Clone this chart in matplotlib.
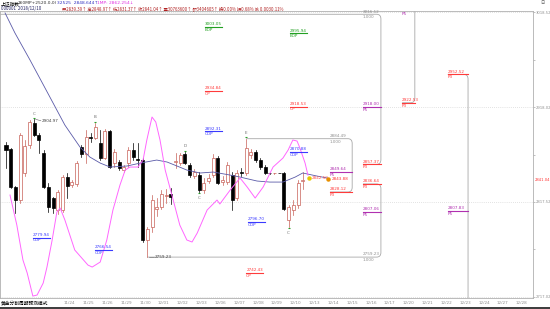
import matplotlib
matplotlib.use("Agg")
import matplotlib.pyplot as plt
from matplotlib.path import Path
from matplotlib.patches import PathPatch, Rectangle

# 60-minute bars of 上证指数 (4 bars per trading day)
opens = [2877.8, 2873.6, 2833.4, 2819.6, 2848.2, 2877.8, 2901.1, 2888.4, 2869.3, 2833.4,
         2821.7, 2809.0, 2809.0, 2843.9, 2835.5, 2836.5, 2875.7, 2868.3, 2886.3, 2885.2,
         2879.9, 2864.0, 2892.6, 2858.7, 2859.8, 2851.3, 2858.7, 2872.5, 2863.0, 2861.9,
         2777.3, 2791.0, 2810.1, 2812.2, 2823.8, 2825.9, 2859.8, 2858.7, 2868.3, 2856.6,
         2845.0, 2846.0, 2830.2, 2839.7, 2846.0, 2864.0, 2838.6, 2838.6, 2846.0, 2821.7,
         2849.2, 2848.2, 2867.2, 2870.4, 2861.9, 2854.5, 2848.2, 2848.0, 2848.2, 2848.2,
         2798.5, 2809.0, 2814.3, 2839.39]
highs = [2881.0, 2874.6, 2834.4, 2890.5, 2883.1, 2904.2, 2904.97, 2890.5, 2872.5, 2837.6,
         2822.8, 2830.2, 2846.0, 2848.2, 2840.8, 2860.9, 2877.8, 2893.7, 2890.5, 2901.1,
         2893.7, 2894.7, 2893.7, 2873.6, 2861.9, 2856.6, 2875.7, 2879.9, 2879.9, 2864.0,
         2791.0, 2824.9, 2821.7, 2830.2, 2831.2, 2832.3, 2869.3, 2869.3, 2870.4, 2858.7,
         2852.4, 2849.2, 2842.9, 2847.1, 2868.3, 2866.2, 2845.0, 2859.8, 2849.2, 2851.3,
         2853.5, 2884.49, 2873.6, 2872.5, 2864.0, 2856.6, 2848.6, 2848.5, 2848.6, 2849.2,
         2814.3, 2819.6, 2840.8, 2848.97]
lows = [2853.5, 2832.3, 2805.8, 2816.4, 2845.0, 2874.6, 2887.3, 2869.3, 2832.3, 2807.0,
        2805.8, 2804.8, 2807.0, 2821.7, 2833.4, 2834.4, 2865.1, 2858.7, 2881.0, 2884.1,
        2861.9, 2863.0, 2853.5, 2854.5, 2851.3, 2849.2, 2854.5, 2861.9, 2854.5, 2775.2,
        2759.23, 2785.7, 2802.7, 2810.1, 2816.4, 2815.4, 2853.5, 2856.6, 2857.7, 2843.9,
        2842.9, 2828.1, 2827.0, 2837.6, 2843.9, 2836.5, 2835.5, 2836.5, 2809.0, 2819.6,
        2845.0, 2846.0, 2864.0, 2859.8, 2852.4, 2847.1, 2847.6, 2847.6, 2847.7, 2809.0,
        2791.0, 2803.7, 2811.1, 2831.37]
closes = [2872.5, 2833.4, 2819.6, 2888.4, 2876.7, 2902.1, 2888.4, 2883.1, 2833.4, 2812.2,
          2811.1, 2828.1, 2843.9, 2834.4, 2838.6, 2858.7, 2868.3, 2886.3, 2885.7, 2896.8,
          2864.0, 2892.6, 2854.5, 2870.4, 2853.5, 2854.5, 2872.5, 2865.1, 2861.9, 2777.3,
          2788.9, 2819.6, 2812.2, 2825.9, 2824.9, 2822.8, 2860.9, 2867.2, 2858.7, 2846.0,
          2849.2, 2830.2, 2837.6, 2842.9, 2864.0, 2837.6, 2840.8, 2856.6, 2819.6, 2848.2,
          2848.7, 2874.6, 2870.4, 2861.9, 2854.5, 2848.2, 2848.0, 2848.2, 2848.1, 2810.1,
          2812.2, 2814.3, 2837.6, 2841.04]

# moving average (blue) and the pink indicator, read at a few bars
ma_bars = [-0.2, 1.9, 5.1, 7.6, 10.0, 12.5, 15.7, 17.8, 20.0, 22.1, 25.7, 28.5, 32.0, 34.2,
           36.3, 38.4, 41.2, 44.0, 47.6, 49.7, 53.3, 56.0, 58.8, 61.4, 63.0, 66.0, 68.2]
ma_vals = [3017.5, 2996.3, 2967.7, 2944.5, 2922.2, 2898.9, 2875.7, 2865.1, 2858.7, 2854.5,
           2855.6, 2858.7, 2861.9, 2859.8, 2855.6, 2851.3, 2848.2, 2849.2, 2846.0, 2843.9,
           2839.7, 2838.6, 2838.6, 2843.9, 2848.2, 2845.0, 2842.9]
osc_bars = [0.85, 2.3, 3.6, 4.5, 5.7, 6.6, 7.9, 8.7, 9.8, 10.8, 11.5, 12.5, 14.6, 17.4, 18.3,
            20.0, 21.4, 22.7, 24.2, 25.3, 26.3, 28.0, 29.1, 29.9, 31.0, 31.8, 32.7, 33.8, 35.5,
            36.9, 38.4, 39.5, 40.6, 42.7, 44.8, 45.4, 47.6, 49.7, 51.2, 52.9, 54.6, 56.7, 58.8,
            59.9, 60.9, 61.8, 62.4, 63.5, 64.1]
osc_vals = [2824.9, 2793.1, 2756.1, 2742.4, 2718.0, 2719.1, 2731.8, 2748.7, 2777.3, 2806.9,
            2811.1, 2798.5, 2766.7, 2750.8, 2748.7, 2754.0, 2777.3, 2809.0, 2835.5, 2851.3,
            2854.5, 2854.5, 2861.9, 2883.1, 2907.4, 2902.1, 2883.1, 2851.3, 2819.6, 2793.1,
            2777.3, 2775.2, 2784.7, 2809.0, 2819.6, 2815.4, 2830.2, 2842.9, 2833.4, 2821.7,
            2833.4, 2854.5, 2864.0, 2872.5, 2883.1, 2882.0, 2874.6, 2858.7, 2846.0]

days = ["11/19", "11/22", "11/23", "11/24", "11/25", "11/26", "11/29", "11/30", "12/01", "12/02",
        "12/03", "12/06", "12/07", "12/08", "12/09", "12/10", "12/13", "12/14", "12/15", "12/16",
        "12/17", "12/20", "12/21", "12/22", "12/23", "12/24", "12/27", "12/28"]

grid_levels = [3018.52, 2918.02, 2817.52, 2717.02]
last_price = 2841.04

# golden-section target labels
op_vals = [3003.05, 2995.94, 2934.84, 2918.53, 2892.31, 2870.88, 2796.70, 2779.94, 2766.54, 2742.43]
op_tags = ["EOP", "EOP", "OP", "OP", "COP", "COP", "COP", "COP", "COP", "OP"]
op_bars = [42.2, 60.3, 42.2, 60.3, 42.2, 60.3, 51.4, 5.7, 18.9, 51.0]

p_vals = [2918.00, 2922.53, 2952.52, 2857.37, 2836.64, 2807.06, 2807.83, 2849.64, 2828.12]
p_tags = ["P5", "P3", "P3", "P3", "P3", "P5", "P5", "P5", "P3"]
p_bars = [75.8, 84.1, 93.8, 75.8, 75.8, 75.8, 93.8, 68.8, 68.8]
p_ends = [79.6, 86.8, 98.1, 79.6, 79.6, 79.6, 98.1, 73.5, 73.5]

tag_colors = {"EOP": "#22a022", "OP": "#ff3b3b", "COP": "#3a3aff", "P3": "#ff3b3b", "P5": "#b030b0"}

UP = "#c86058"
GRAY = "#a8a8a8"
FS = 3.0

fig = plt.figure(figsize=(5.5, 3.09), dpi=100)
ax = fig.add_axes([0, 11 / 309, 533 / 550, 287 / 309])
ax.set_xlim(-1.274, 111.89)
ax.set_ylim(2715.96, 3019.58)
for s in ax.spines.values():
    s.set_color("#b0b0b0")
    s.set_linewidth(0.6)

for lv in grid_levels:
    ax.axhline(lv, color="#c8c8c8", lw=0.5, ls=(0, (1, 2)), zorder=0)

# candles
for i in range(len(opens)):
    o, h, l, c = opens[i], highs[i], lows[i], closes[i]
    up = c >= o
    col = UP if up else "black"
    ax.plot([i, i], [l, h], color=col, lw=0.5, zorder=3)
    ax.add_patch(Rectangle((i - 0.32, min(o, c)), 0.64, max(abs(c - o), 0.4),
                           facecolor="white" if up else "black", edgecolor=col, lw=0.5, zorder=4))

ax.plot(ma_bars, ma_vals, color="#5a5aa8", lw=0.6, zorder=5)
ax.plot(osc_bars, osc_vals, color="#ff66ff", lw=0.7, zorder=5)


def brace(x_top, x_bot, xv, top, bot):
    w, h = 0.9, 5.0
    verts = [(x_top, top), (xv - w, top), (xv, top), (xv, top - h),
             (xv, bot + h), (xv, bot), (xv - w, bot), (x_bot, bot)]
    codes = [Path.MOVETO, Path.LINETO, Path.CURVE3, Path.CURVE3,
             Path.LINETO, Path.CURVE3, Path.CURVE3, Path.LINETO]
    ax.add_patch(PathPatch(Path(verts, codes), fill=False, edgecolor=GRAY, lw=0.6, zorder=2))


brace(-1.3, 75.8, 79.6, 3016.12, 2857.37)
brace(51.0, 68.8, 73.5, 2884.49, 2828.12)
brace(75.8, 30.0, 79.6, 2836.64, 2759.23)
brace(84.1, 84.1, 86.8, 3026.0, 2922.53)
brace(93.8, 93.8, 98.1, 2952.52, 2690.0)

# range labels on the gray lines
for xb, v in [(75.8, 3016.12), (68.8, 2884.49), (75.8, 2759.23)]:
    ax.text(xb, v + 0.8, f"{v:.2f}", fontsize=FS, color="#909090", va="bottom", clip_on=False)
    ax.text(xb, v - 1.2, "1.000", fontsize=FS, color="#909090", va="top")

# target labels
for v, t, xb in zip(op_vals, op_tags, op_bars):
    col = tag_colors[t]
    ax.text(xb, v + 0.8, f"{v:.2f}", fontsize=FS, color=col, va="bottom", zorder=6)
    ax.plot([xb, xb + 3.6], [v, v], color=col, lw=0.8, zorder=6)
    ax.text(xb, v - 1.0, t, fontsize=FS, color=col, va="top", zorder=6)

for v, t, xb, xe in zip(p_vals, p_tags, p_bars, p_ends):
    col = tag_colors[t]
    ax.text(xb, v + 0.8, f"{v:.2f}", fontsize=FS, color=col, va="bottom", zorder=6)
    ax.plot([xb, xe], [v, v], color=col, lw=0.8, zorder=6)
    ax.text(xb, v - 1.0, t, fontsize=FS, color=col, va="top", zorder=6)
ax.text(84.1, 3019.0, "P5", fontsize=FS, color=tag_colors["P5"], va="top")

# extreme point notes and wave letters
ax.plot([6.3, 7.4], [highs[6], highs[6] - 1.5], color="#606060", lw=0.4)
ax.text(7.6, highs[6] - 1.5, "2904.97", fontsize=FS, color="#404040", va="center")
ax.plot([30.3, 31.4], [lows[30], lows[30]], color="#606060", lw=0.4)
ax.text(31.6, lows[30], "2759.23", fontsize=FS, color="#404040", va="center")
for i, letter, above in [(6, "C", True), (19, "B", True), (38, "D", True),
                         (41, "C", False), (51, "E", True), (60, "C", False)]:
    if above:
        ax.plot(i, highs[i] + 1.5, marker="_", color="#2aa02a", ms=2, mew=0.8)
        ax.text(i, highs[i] + 4, letter, fontsize=FS, color="#707070", ha="center", va="bottom")
    else:
        ax.plot(i, lows[i] - 1.5, marker="_", color="#2aa02a", ms=2, mew=0.8)
        ax.text(i, lows[i] - 4, letter, fontsize=FS, color="#707070", ha="center", va="top")

ax.plot(64.3, 2842.9, "o", color="#e8c800", ms=2.2, zorder=7)
ax.text(65.0, 2842.9, "2842.50", fontsize=FS, color="#ff5050", va="center", zorder=7)
ax.plot(68.4, 2841.9, "o", color="#e89000", ms=2.2, zorder=7)
ax.text(69.2, 2841.6, "2843.88", fontsize=FS, color="#ff3030", va="center", zorder=7)

# price axis on the right
ax.yaxis.tick_right()
ax.set_yticks(grid_levels)
ax.set_yticklabels([f"{v:.2f}" for v in grid_levels])
ax.set_yticks([(a + b) / 2 for a, b in zip(grid_levels[:-1], grid_levels[1:])], minor=True)
ax.tick_params(axis="y", which="both", labelsize=2.7, colors="#909090", length=1.2, width=0.4, pad=0.6)
ax.text(1.003, last_price, f"{last_price:.2f}", transform=ax.get_yaxis_transform(),
        fontsize=2.7, color="#ff3030", va="center", clip_on=False)

# the first day labels sit under the mode caption, so start at 11/24
day_pos = [4 * k + 1.5 for k in range(len(days))]
ax.set_xticks(day_pos[3:])
ax.set_xticklabels(days[3:])
ax.tick_params(axis="x", labelsize=FS, colors="#909090", length=0, pad=2.5)

# header rows
cjk = ["Noto Sans CJK SC", "DejaVu Sans"]
fig.text(0.002, 1 - 3.5 / 309, "上证指数", fontsize=3.4, family=cjk, color="black", va="center")
fig.text(18 / 550, 1 - 3.5 / 309, "160MP+2520.0,0)", fontsize=3.2, color="#303030", va="center")
fig.text(57 / 550, 1 - 3.5 / 309, "32525  2848.644↑", fontsize=3.2, color="#3030c0", va="center")
fig.text(97 / 550, 1 - 3.5 / 309, "1MP: 2862.254↓", fontsize=3.2, color="#e030e0", va="center")
fig.text(0.002, 1 - 8.5 / 309, "000001  2018/12/10", fontsize=3.2, family=cjk, color="#202060", va="center")
fig.text(62 / 550, 1 - 8.5 / 309,
         "开2839.39↑ 高2848.97↑ 低2831.37↑ 收2841.04↑ 量30763600↑ 额3404605↑ 换0.00% 振0.68% 涨 0.0030.11%",
         fontsize=3.1, family=cjk, color="#b02020", va="center")
fig.text(540 / 550, 1 - 3.5 / 309, "日", fontsize=3.0, family=cjk, color="#606060", va="center")

# bottom mode label and dark strip
fig.text(0.002, 5.5 / 309, "黄金分割周期预测模式", fontsize=3.4, family=cjk, color="black", va="center",
         bbox=dict(facecolor="white", edgecolor="none", pad=0.3))
fig.patches.append(Rectangle((0, 0), 1, 2.5 / 309, transform=fig.transFigure, facecolor="#404040",
                             edgecolor="none"))

fig.savefig("out.png", dpi=100)
